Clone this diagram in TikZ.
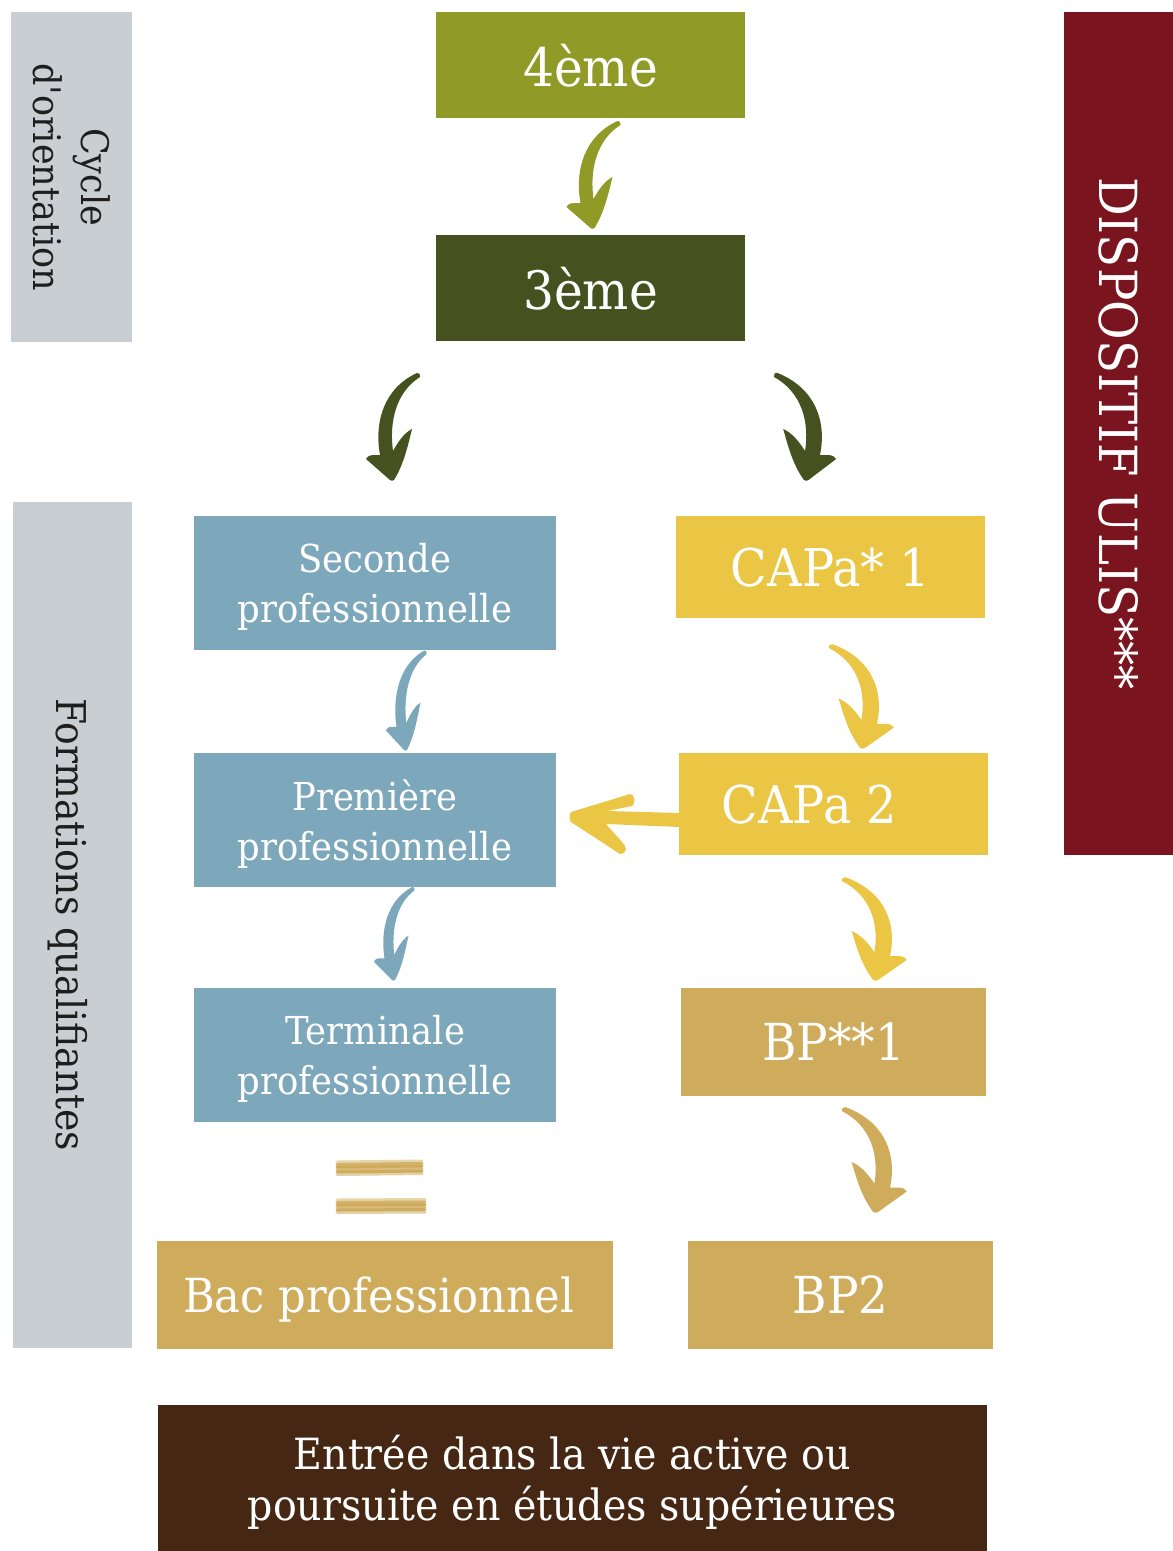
\documentclass[tikz,border=0pt]{standalone}
\usepackage{fontspec}
\setmainfont{DejaVu Serif}[FakeStretch=0.92]
\newfontfamily\sidefont{DejaVu Serif}[FakeStretch=0.92, Ligatures=TeXOff]
\usetikzlibrary{calc}
\definecolor{greybox}{HTML}{C8CED1}
\definecolor{olivec}{HTML}{8F9B26}
\definecolor{darkolive}{HTML}{45511E}
\definecolor{bluec}{HTML}{7DA7BA}
\definecolor{yellowc}{HTML}{EBC645}
\definecolor{tanc}{HTML}{CFAB5C}
\definecolor{brownc}{HTML}{452713}
\definecolor{maroonc}{HTML}{7A1520}
\definecolor{greytext}{HTML}{1E1E1E}
\begin{document}
\begin{tikzpicture}[x=1pt,y=-1pt,
  box/.style={draw=none, inner sep=0pt, outer sep=0pt, text=white, align=center, text depth=0pt},
  sidebox/.style={draw=none, inner sep=0pt, outer sep=0pt, text=greytext, align=center, fill=greybox, rotate=-90},
  curlyarrow/.pic={
    \fill (0,0) -- (-24,-21) .. controls (-21,-25) .. (-10,-25)
      .. controls (-16,-58) and (-6,-92) .. (27,-107)
      .. controls (29,-108) and (31,-105) .. (30,-103)
      .. controls (6,-88) and (-1,-58) .. (3,-29)
      .. controls (8,-38) and (14,-47) .. (22,-51)
      .. controls (18,-35) and (14,-16) .. (4,0)
      .. controls (3,1) and (1,1) .. (0,0) -- cycle;
  },
  leftarrow/.pic={
    \fill (-1,-5) -- (58,-23) .. controls (63,-23) and (64,-13) .. (60,-11)
      -- (35,-6) -- (108,-4) -- (108,10) -- (34,7) -- (50,25)
      .. controls (55,30) and (56,36) .. (48,37) -- (-1,5)
      .. controls (-3,3) and (-3,-3) .. (-1,-5) -- cycle;
  }
]
\useasboundingbox (0,0) rectangle (1173,1551);

% side bars
\node[sidebox, minimum width=330pt, minimum height=121pt,
  font=\sidefont\fontsize{38}{48}\selectfont] (cyc) at (71.5,177) {Cycle\\d'orientation};
\node[sidebox, minimum width=846pt, minimum height=119pt, text depth=0pt,
  font=\fontsize{41}{50}\selectfont] (form) at (72.5,925) {Formations qualifiantes};
\node[box, fill=maroonc, rotate=-90, minimum width=843pt, minimum height=109pt,
  font=\fontsize{52.5}{60}\selectfont] (ulis) at (1118.5,433.5) {DISPOSITIF ULIS***};

% main boxes
\node[box, fill=olivec, minimum width=309pt, minimum height=106pt,
  font=\fontsize{53}{60}\selectfont] (n4) at (590.5,65) {4ème};
\node[box, fill=darkolive, minimum width=309pt, minimum height=106pt,
  font=\fontsize{53}{60}\selectfont] (n3) at (590.5,288) {3ème};

\node[box, fill=bluec, minimum width=362pt, minimum height=134pt,
  font=\fontsize{38.5}{50}\selectfont] (sec) at (375,583) {Seconde\\professionnelle};
\node[box, fill=bluec, minimum width=362pt, minimum height=134pt,
  font=\fontsize{38.5}{50}\selectfont] (prem) at (375,820) {Première\\professionnelle};
\node[box, fill=bluec, minimum width=362pt, minimum height=134pt,
  font=\fontsize{38.5}{50}\selectfont] (term) at (375,1055) {Terminale\\professionnelle};

\node[box, fill=yellowc, minimum width=309pt, minimum height=102pt,
  font=\fontsize{52}{60}\selectfont] (capa1) at (830.5,567) {CAPa* 1};
\node[box, fill=yellowc, minimum width=309pt, minimum height=102pt,
  font=\fontsize{52}{60}\selectfont] (capa2) at (833.5,804) {CAPa 2\hspace*{48pt}};
\node[box, fill=tanc, minimum width=305pt, minimum height=108pt,
  font=\fontsize{51}{60}\selectfont] (bp1) at (833.5,1042) {BP**1};
\node[box, fill=tanc, minimum width=305pt, minimum height=108pt,
  font=\fontsize{51}{60}\selectfont] (bp2) at (840.5,1295) {BP2};
\node[box, fill=tanc, minimum width=456pt, minimum height=108pt,
  font=\fontsize{47}{60}\selectfont] (bac) at (385,1295) {Bac professionnel\hspace*{13pt}};

\node[box, fill=brownc, minimum width=829pt, minimum height=146pt,
  font=\fontsize{43}{51}\selectfont] (vie) at (572.5,1478)
  {Entrée dans la vie active ou\\poursuite en études supérieures};

% curly arrows
\pic[color=olivec] at ($(n3.north)+(0,-7)$) {curlyarrow};
\pic[color=darkolive] at ($(sec.north)+(15,-36)$) {curlyarrow};
\pic[color=darkolive, xscale=-1.15] at ($(capa1.north)+(-22,-36)$) {curlyarrow};
\pic[color=bluec, xscale=0.75, yscale=0.93] at ($(prem.north)+(29,-3)$) {curlyarrow};
\pic[color=yellowc, xscale=-1.2, yscale=0.97] at ($(capa2.north)+(31.5,-5)$) {curlyarrow};
\pic[color=bluec, xscale=0.75, yscale=0.87] at ($(term.north)+(17,-8)$) {curlyarrow};
\pic[color=yellowc, xscale=-1.2, yscale=0.96] at ($(bp1.north)+(44.5,-8)$) {curlyarrow};
\pic[color=tanc, xscale=-1.2, yscale=0.98] at ($(bp2.north)+(37.5,-29)$) {curlyarrow};
\pic[color=yellowc] at ($(prem.east)+(16,-3)$) {leftarrow};

% equals sign (brush strokes)
\foreach \dy/\op in {0/0.5, 2.5/0.9, 5/1, 7.5/0.8, 10/1, 12.5/0.55} {
  \draw[tanc, line width=3pt, opacity=\op, line cap=round] (337,1162+\dy) -- (422,1161+\dy);
  \draw[tanc, line width=3pt, opacity=\op, line cap=round] (337,1200+\dy) -- (425,1199.5+\dy);
}
\end{tikzpicture}
\end{document}
